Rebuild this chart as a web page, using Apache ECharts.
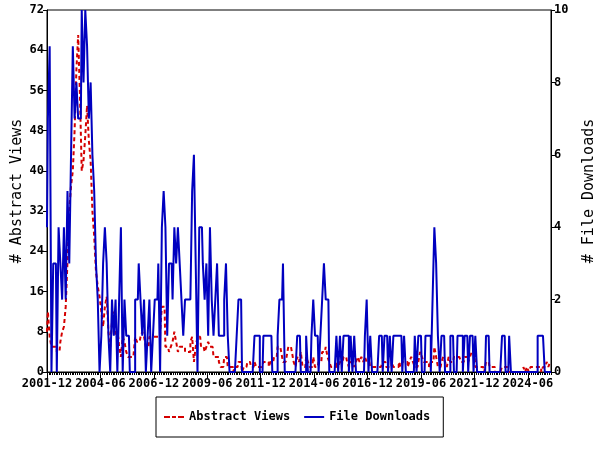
<!DOCTYPE html>
<html>
<head>
<meta charset="utf-8">
<script src="https://cdn.jsdelivr.net/npm/echarts@6/dist/echarts.min.js"></script>
<style>html,body{margin:0;padding:0;background:#fff}#c{width:600px;height:450px}</style>
</head>
<body>
<div id="c"></div>
<script>
// months 2001-12 .. 2025-07
const startYear = 2001, startMonth = 12, monthCount = 284;
const months = [];
for (let i = 0; i < monthCount; i++) {
  const t = (startMonth - 1) + i;
  const y = startYear + Math.floor(t / 12);
  const m = (t % 12) + 1;
  months.push(y + '-' + (m < 10 ? '0' + m : m));
}

const abstractViews = [
  8,12,7,5,5,5,4,4,6,8, 9,13,22,32,37,40,48,60,67,55,
  40,42,47,53,46,42,32,27,20,17, 15,12,9,13,15,8,5,10,12,7,
  7,5,3,7,6,4,3,3,3,3, 7,6,6,7,8,7,5,5,7,7,
  7,7,7,7,8,13,13,5,5,4, 5,6,8,6,4,5,5,5,4,4,
  4,6,7,2,5,7,7,5,5,4, 5,6,5,5,3,3,3,2,1,1,
  3,3,1,1,1,0,1,1,2,2, 0,1,1,2,2,1,1,2,1,1,
  1,1,2,2,2,1,2,2,3,3, 5,5,4,2,2,3,5,5,4,2,
  1,3,2,4,1,1,3,2,1,1, 3,1,1,2,2,4,4,5,3,2,
  1,1,1,2,1,2,2,3,3,2, 1,2,2,1,2,3,2,3,2,3,
  2,2,1,1,1,1,1,1,1,2, 2,1,1,1,2,1,1,1,2,1,
  2,2,2,1,2,3,2,1,1,2, 4,3,2,2,2,1,2,2,5,3,
  1,1,2,3,2,1,3,2,2,3, 3,3,3,2,2,3,3,2,3,4,
  4,1,1,1,1,1,0,2,2,1, 1,1,0,0,0,0,1,1,1,0,
  0,0,0,0,0,0,0,0,1,0, 1,0,1,1,1,1,1,1,0,1,
  1,2,1,2
];

const fileDownloads = [
  4,7,9,0,3,3,0,4,3,2, 4,2,5,3,6,9,7,8,7,7,
  10,8,10,9,7,8,6,5,3,2, 0,1,3,4,3,1,0,2,1,2,
  0,2,4,0,2,1,1,0,0,0, 2,2,3,2,1,2,0,1,2,0,
  1,2,2,3,0,4,5,4,1,3, 3,2,4,3,4,3,2,1,2,2,
  2,2,5,6,3,0,4,4,3,2, 3,1,4,2,1,2,3,1,1,1,
  2,3,1,0,0,0,0,1,2,2, 0,0,0,0,0,0,0,1,1,1,
  0,0,1,1,1,1,1,0,0,0, 1,2,2,3,0,0,0,0,0,0,
  0,1,1,0,0,0,1,0,0,1, 2,1,1,0,1,2,3,2,2,0,
  0,0,0,1,0,1,0,1,1,1, 0,1,0,1,0,0,0,0,0,1,
  2,0,1,0,0,0,0,1,1,0, 1,1,0,1,0,1,1,1,1,1,
  0,1,0,0,0,0,0,1,0,1, 1,0,0,1,1,1,0,2,4,3,
  1,0,1,1,0,0,0,1,1,0, 0,1,1,1,0,1,1,0,1,1,
  0,1,0,0,0,0,0,1,1,0, 0,0,0,0,0,0,1,1,0,0,
  1,0,0,0,0,0,0,0,0,0, 0,0,0,0,0,0,1,1,1,1,
  0,0,0,0
];

const leftTicks = { min: 0, max: 72, interval: 8 };
const rightTicks = { min: 0, max: 10, interval: 2 };

const FONT = 'DejaVu Sans Mono';
const chart = echarts.init(document.getElementById('c'), null, { renderer: 'canvas' });
chart.setOption({
  animation: false,
  backgroundColor: '#ffffff',
  grid: { left: 47, right: 49, top: 10, bottom: 78, show: true, borderColor: '#000', borderWidth: 1, containLabel: false, outerBoundsMode: 'none' },
  legend: {
    left: 156, top: 397,
    padding: [14, 13, 14, 8],
    itemGap: 14,
    itemWidth: 20, itemHeight: 12,
    borderColor: '#000', borderWidth: 1,
    textStyle: { fontFamily: FONT, fontWeight: 'bold', fontSize: 12, color: '#000' },
    data: [
      { name: 'Abstract Views', icon: 'path://M0,5 L6,5 L6,7 L0,7 Z M8,5 L12,5 L12,7 L8,7 Z M14,5 L20,5 L20,7 L14,7 Z', itemStyle: { color: '#d40000' } },
      { name: 'File Downloads', icon: 'path://M0,5 L20,5 L20,7 L0,7 Z', itemStyle: { color: '#0000c0' } }
    ]
  },
  xAxis: [
    {
      type: 'category', data: months, boundaryGap: false,
      axisLine: { lineStyle: { color: '#000', width: 1 } },
      axisTick: { interval: 0, length: 3, lineStyle: { color: '#000' } },
      axisLabel: { interval: 29, color: '#000', fontFamily: FONT, fontWeight: 'bold', fontSize: 12, margin: 6 },
      splitLine: { show: false }
    },
    {
      type: 'category', data: months, boundaryGap: false, position: 'bottom',
      axisLine: { show: false },
      axisTick: { interval: 29, length: 6, lineStyle: { color: '#000' } },
      axisLabel: { show: false },
      splitLine: { show: false }
    }
  ],
  yAxis: [
    {
      type: 'value', min: leftTicks.min, max: leftTicks.max, interval: leftTicks.interval,
      name: '# Abstract Views', nameLocation: 'middle', nameGap: 22, nameRotate: 90, nameMoveOverlap: false,
      nameTextStyle: { fontFamily: FONT, fontSize: 15, color: '#000' },
      axisLine: { show: true, lineStyle: { color: '#000' } },
      axisTick: { show: true, length: 4, lineStyle: { color: '#000' } },
      axisLabel: { color: '#000', fontFamily: FONT, fontWeight: 'bold', fontSize: 12, margin: 3 },
      splitLine: { show: false }
    },
    {
      type: 'value', min: rightTicks.min, max: rightTicks.max, interval: rightTicks.interval,
      position: 'right',
      name: '# File Downloads', nameLocation: 'middle', nameGap: 31, nameRotate: 90, nameMoveOverlap: false,
      nameTextStyle: { fontFamily: FONT, fontSize: 15, color: '#000' },
      axisLine: { show: true, lineStyle: { color: '#000' } },
      axisTick: { show: true, length: 4, lineStyle: { color: '#000' } },
      axisLabel: { color: '#000', fontFamily: FONT, fontWeight: 'bold', fontSize: 12, margin: 3 },
      splitLine: { show: false }
    }
  ],
  series: [
    {
      name: 'Abstract Views', type: 'line', yAxisIndex: 0, data: abstractViews,
      showSymbol: false, symbol: 'none', step: 'middle',
      lineStyle: { color: '#d40000', width: 2, type: [4, 3] },
      itemStyle: { color: '#d40000' }, z: 2
    },
    {
      name: 'File Downloads', type: 'line', yAxisIndex: 1, data: fileDownloads,
      showSymbol: false, symbol: 'none', step: 'middle',
      lineStyle: { color: '#0000c0', width: 2 },
      itemStyle: { color: '#0000c0' }, z: 3
    }
  ]
});
</script>
</body>
</html>
